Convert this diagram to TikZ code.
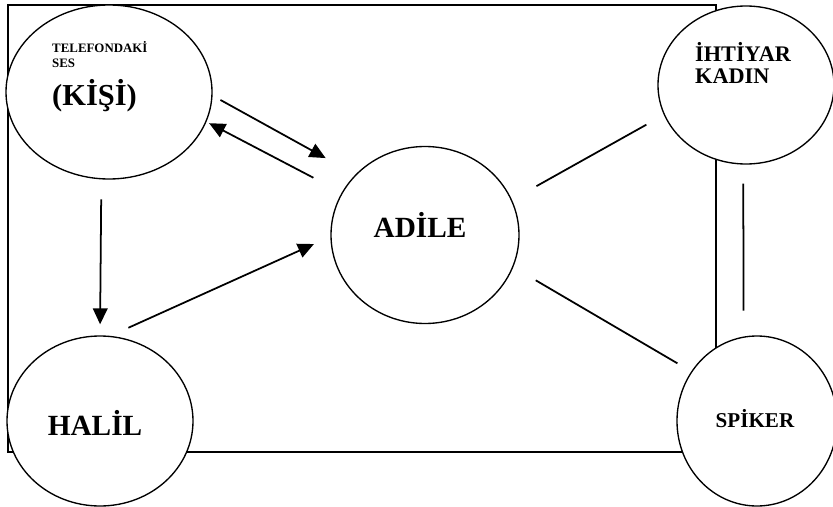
\documentclass[tikz,border=0pt]{standalone}
\usepackage{fontspec}
\setmainfont{Liberation Serif}
\usetikzlibrary{shapes.geometric,arrows.meta}

\tikzset{
  karakter/.style={draw,ellipse,fill=white,line width=1.15pt,inner sep=0pt},
  baglanti/.style={line width=1.5pt},
  etiket/.style={font=\bfseries\fontsize{#1}{#1}\selectfont,inner sep=0pt},
  >={Triangle[length=0.48cm,width=0.44cm]}
}

\begin{document}
\begin{tikzpicture}[x=0.03cm,y=-0.03cm]
          \useasboundingbox (0,0) rectangle (833,507);
          \draw[line width=1.7pt] (8,5) -- (716,5) -- (716,452) -- (8,452) -- cycle;
          % kisiler
          \node[karakter,minimum width=6.18cm,minimum height=5.22cm] (kisi) at (109,92) {};
          \node[karakter,minimum width=5.28cm,minimum height=4.74cm] (ihtiyar) at (746,85) {};
          \node[karakter,minimum width=5.64cm,minimum height=5.31cm] (adile) at (425,235) {};
          \node[karakter,minimum width=5.58cm,minimum height=5.1cm] (halil) at (100,421) {};
          \node[karakter,minimum width=4.8cm,minimum height=5.1cm] (spiker) at (757,421) {};
          % yazilar
          \node[etiket=11,anchor=base west] (telefon) at (52,53) {TELEFONDAKİ};
          \node[etiket=11,anchor=base west] (ses) at (52,68) {SES};
          \node[etiket=26,anchor=base west] (kisiad) at (52,106) {(KİŞİ)};
          \node[etiket=19,anchor=base west] (ihtiyarad) at (695,62) {İHTİYAR};
          \node[etiket=19,anchor=base west] (kadin) at (695,83) {KADIN};
          \node[etiket=25,anchor=base] (adilead) at (420,237) {ADİLE};
          \node[etiket=25,anchor=base] (halilad) at (95,435) {HALİL};
          \node[etiket=18,anchor=base] (spikerad) at (755,427) {SPİKER};
          % oklar
          \draw[baglanti,->,shorten <=0.27cm,shorten >=1.02cm] (kisi.-2.6) -- (adile.139.2);
          \draw[baglanti,->,shorten <=0.96cm,shorten >=0.09cm] (adile.153.4) -- (kisi.-17.9);
          \draw[baglanti,->,shorten <=0.6cm,shorten >=0.33cm] (kisi.-95.4) -- (halil.90.6);
          \draw[baglanti,->,shorten <=0.59cm,shorten >=0.54cm] (halil.83.1) -- (adile.181.5);
          % cizgiler
          \draw[baglanti,shorten <=0.84cm,shorten >=0.6cm] (adile.22.8) -- (ihtiyar.200.8);
          \draw[baglanti,shorten <=0.78cm,shorten >=0.48cm] (adile.-20.6) -- (spiker.143.7);
          \draw[baglanti,shorten <=0.57cm,shorten >=0.78cm] (ihtiyar.-92) -- (spiker.99.4);
        \end{tikzpicture}
\end{document}
